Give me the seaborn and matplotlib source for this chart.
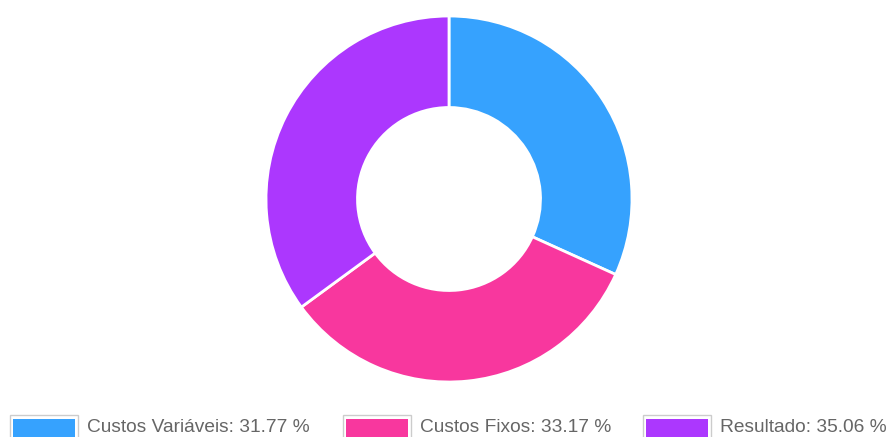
import matplotlib
matplotlib.use("Agg")
import matplotlib.pyplot as plt
import seaborn as sns
from matplotlib.patches import Rectangle

sns.set_theme(style="white")
plt.rcParams['font.family'] = ['Liberation Sans', 'DejaVu Sans']

# data
labels = ['Custos Variáveis', 'Custos Fixos', 'Resultado']
values = [31.77, 33.17, 35.06]
colors = ['#36a2fe', '#f8379e', '#ac37fe']

W, H = 890, 437
fig = plt.figure(figsize=(W / 100, H / 100), dpi=100)

# donut, centre (449, 199) px from top, radius 183 px
ax = fig.add_axes([266 / W, (H - 382) / H, 366 / W, 366 / H])
ax.pie(values, colors=colors, startangle=90, counterclock=False,
       wedgeprops=dict(width=0.5, edgecolor='white', linewidth=2))
ax.set_xlim(-1.0, 1.0)
ax.set_ylim(-1.0, 1.0)
ax.set_aspect('equal')
ax.axis('off')

# legend along the bottom, drawn by hand
box_x = [10, 343, 643]
for x0, lab, val, col in zip(box_x, labels, values, colors):
    outer = Rectangle((x0 / W, (H - 438) / H), 68 / W, 23 / H,
                      transform=fig.transFigure, facecolor='white',
                      edgecolor='#cccccc', linewidth=1)
    inner = Rectangle(((x0 + 3) / W, (H - 438) / H), 62 / W, 19 / H,
                      transform=fig.transFigure, facecolor=col,
                      edgecolor='none')
    fig.add_artist(outer)
    fig.add_artist(inner)
    fig.text((x0 + 77) / W, (H - 427) / H, f'{lab}: {val:.2f} %',
             fontsize=13.8, color='#666666', va='center', ha='left')

fig.savefig('out.png', dpi=100, facecolor='white')
